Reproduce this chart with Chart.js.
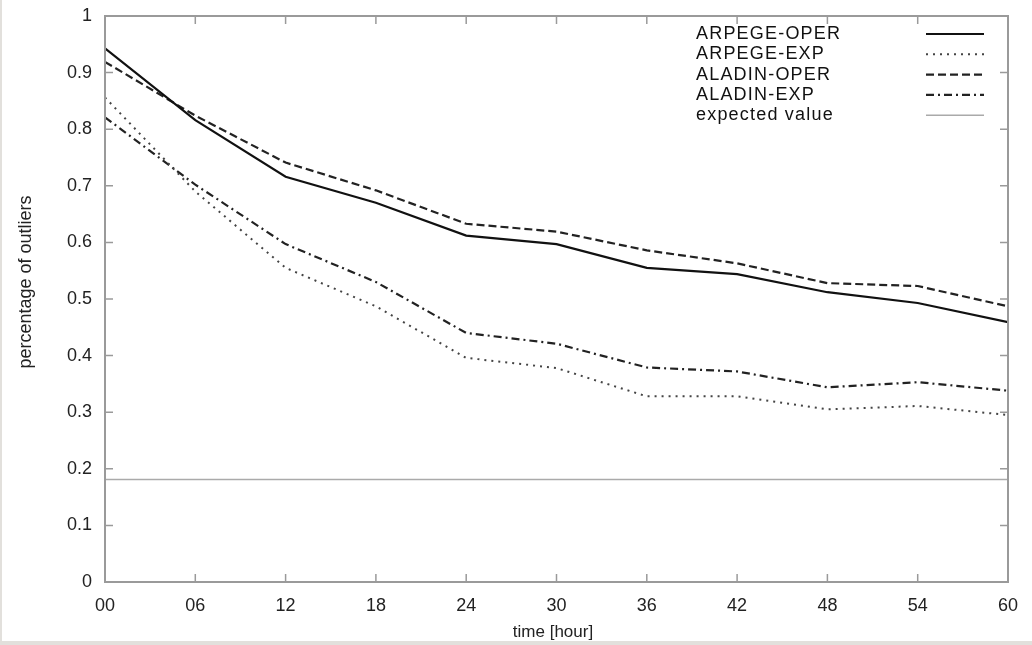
<!DOCTYPE html>
<html>
<head>
<meta charset="utf-8">
<script src="https://cdn.jsdelivr.net/npm/chart.js@4.4.0/dist/chart.umd.min.js"></script>
<style>
  html, body { margin: 0; padding: 0; background: #e2e0dc; }
  #wrap { position: absolute; left: 2px; top: 0; width: 1030px; height: 641px; background: #fff; }
</style>
</head>
<body>
<div id="wrap"><canvas id="outliers" width="1030" height="641"></canvas></div>
<script>
const hours = [0, 6, 12, 18, 24, 30, 36, 42, 48, 54, 60];
const arpegeOper = [0.943, 0.816, 0.716, 0.670, 0.612, 0.597, 0.555, 0.544, 0.512, 0.493, 0.459];
const arpegeExp  = [0.856, 0.690, 0.555, 0.487, 0.396, 0.378, 0.328, 0.328, 0.305, 0.311, 0.295];
const aladinOper = [0.919, 0.824, 0.741, 0.692, 0.633, 0.619, 0.586, 0.563, 0.528, 0.523, 0.487];
const aladinExp  = [0.821, 0.702, 0.597, 0.530, 0.440, 0.421, 0.379, 0.372, 0.344, 0.353, 0.338];
const expectedValue = 0.181;
const yTicks = [0, 0.1, 0.2, 0.3, 0.4, 0.5, 0.6, 0.7, 0.8, 0.9, 1];

const FONT = "'Liberation Sans', Arial, sans-serif";
const pts = (vals) => vals.map((v, i) => ({ x: hours[i], y: v }));

// gnuplot-like frame with inward ticks, axis titles, and legend (text left / sample right)
const framePlugin = {
  id: "frame",
  afterDatasetsDraw(chart) {
    const { ctx, chartArea: a, scales } = chart;
    ctx.save();
    ctx.strokeStyle = "#9a9a9a";
    ctx.lineWidth = 1.5;
    ctx.beginPath();
    scales.x.ticks.forEach((t) => {
      const px = scales.x.getPixelForValue(t.value);
      ctx.moveTo(px, a.bottom); ctx.lineTo(px, a.bottom - 8);
      ctx.moveTo(px, a.top); ctx.lineTo(px, a.top + 8);
    });
    scales.y.ticks.forEach((t) => {
      const py = scales.y.getPixelForValue(t.value);
      ctx.moveTo(a.left, py); ctx.lineTo(a.left + 8, py);
      ctx.moveTo(a.right, py); ctx.lineTo(a.right - 8, py);
    });
    ctx.stroke();
    ctx.lineWidth = 2;
    ctx.strokeRect(a.left, a.top, a.right - a.left, a.bottom - a.top);

    // axis titles
    ctx.fillStyle = "#222";
    ctx.font = "17px " + FONT;
    ctx.textAlign = "center";
    ctx.textBaseline = "middle";
    ctx.fillText("time [hour]", 551, 632);
    ctx.save();
    ctx.translate(24, 282);
    ctx.rotate(-Math.PI / 2);
    ctx.font = "18px " + FONT;
    ctx.fillText("percentage of outliers", 0, 0);
    ctx.restore();

    // legend
    ctx.font = "18px " + FONT;
    ctx.letterSpacing = "1.2px";
    ctx.textAlign = "left";
    chart.data.datasets.forEach((ds, i) => {
      const y = 34 + i * 20.3;
      ctx.fillStyle = "#111";
      ctx.fillText(ds.label, 694, y);
      ctx.beginPath();
      ctx.strokeStyle = ds.borderColor;
      ctx.lineWidth = ds.borderWidth;
      ctx.setLineDash(ds.borderDash || []);
      ctx.moveTo(924, y); ctx.lineTo(982, y);
      ctx.stroke();
      ctx.setLineDash([]);
    });
    ctx.restore();
  },
};

const line = (label, data, color, width, dash) => ({
  label, data, borderColor: color, borderWidth: width, borderDash: dash,
  borderCapStyle: "butt", pointRadius: 0, tension: 0, fill: false,
});

new Chart(document.getElementById("outliers"), {
  type: "line",
  data: {
    datasets: [
      line("ARPEGE-OPER", pts(arpegeOper), "#111", 2.2, []),
      line("ARPEGE-EXP", pts(arpegeExp), "#444", 2, [2, 5]),
      line("ALADIN-OPER", pts(aladinOper), "#222", 2.2, [8, 4]),
      line("ALADIN-EXP", pts(aladinExp), "#222", 2.2, [8, 4, 2, 4]),
      line("expected value", hours.map((h) => ({ x: h, y: expectedValue })), "#aaa", 1.5, []),
    ],
  },
  plugins: [framePlugin],
  options: {
    responsive: false,
    animation: false,
    layout: { padding: { top: 16, right: 24, left: 0, bottom: 0 } },
    plugins: { legend: { display: false }, tooltip: { enabled: false } },
    scales: {
      x: {
        type: "linear", min: 0, max: 60,
        afterBuildTicks: (s) => { s.ticks = hours.map((h) => ({ value: h })); },
        afterFit: (s) => { s.height = 59; s.paddingLeft = 0; s.paddingRight = 0; },
        grid: { display: false, drawTicks: false },
        border: { display: false },
        ticks: {
          padding: 13, color: "#222", maxRotation: 0,
          font: { family: FONT, size: 18 },
          callback: (v) => String(v).padStart(2, "0"),
        },
      },
      y: {
        min: 0, max: 1,
        afterBuildTicks: (s) => { s.ticks = yTicks.map((v) => ({ value: v })); },
        afterFit: (s) => { s.width = 103; s.paddingTop = 0; s.paddingBottom = 0; },
        grid: { display: false, drawTicks: false },
        border: { display: false },
        ticks: {
          padding: 13, color: "#222",
          font: { family: FONT, size: 18 },
          callback: (v) => String(v),
        },
      },
    },
  },
});
</script>
</body>
</html>
